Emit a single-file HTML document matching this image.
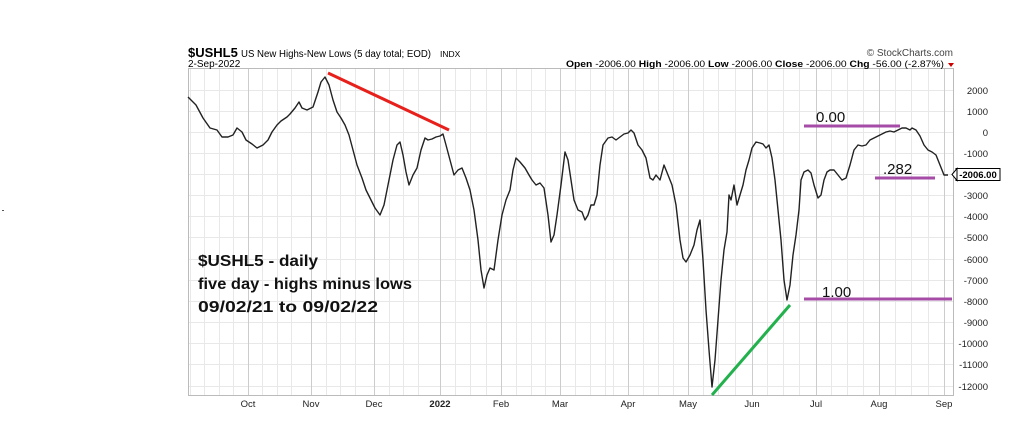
<!DOCTYPE html><html><head><style>body{margin:0;background:#fff}svg{display:block}</style></head><body>
<svg width="1023" height="427" xmlns="http://www.w3.org/2000/svg" font-family="Liberation Sans, sans-serif">
<rect width="1023" height="427" fill="#fff"/>
<g stroke="#e8e8e8" stroke-width="1">
<path d="M190.5 68V395M204.5 68V395M219.5 68V395M233.5 68V395M262.5 68V395M277.5 68V395M291.5 68V395M326.5 68V395M340.5 68V395M355.5 68V395M389.5 68V395M403.5 68V395M418.5 68V395M455.5 68V395M470.5 68V395M486.5 68V395M516.5 68V395M531.5 68V395M545.5 68V395M575.5 68V395M590.5 68V395M605.5 68V395M613.5 68V395M643.5 68V395M658.5 68V395M673.5 68V395M703.5 68V395M718.5 68V395M735.5 68V395M767.5 68V395M783.5 68V395M799.5 68V395M831.5 68V395M847.5 68V395M863.5 68V395M895.5 68V395M911.5 68V395M928.5 68V395"/>
<path d="M188 90.5H953M188 111.5H953M188 132.5H953M188 153.5H953M188 174.5H953M188 195.5H953M188 216.5H953M188 237.5H953M188 259.5H953M188 280.5H953M188 301.5H953M188 322.5H953M188 343.5H953M188 364.5H953M188 386.5H953"/>
</g>
<g stroke="#cccccc"><path d="M248.5 68V395M311.5 68V395M374.5 68V395M440.5 68V395M501.5 68V395M560.5 68V395M628.5 68V395M688.5 68V395M752.5 68V395M816.5 68V395M879.5 68V395M944.5 68V395"/></g>
<rect x="188.5" y="68.5" width="765" height="327" fill="none" stroke="#bbb"/>
<text x="188" y="57" font-size="13" font-weight="bold">$USHL5</text>
<text x="241" y="57" font-size="10" textLength="190" lengthAdjust="spacingAndGlyphs">US New Highs-New Lows (5 day total; EOD)</text>
<text x="440" y="57" font-size="8.5">INDX</text>
<text x="188" y="67" font-size="10">2-Sep-2022</text>
<text x="953" y="56" font-size="10" text-anchor="end" fill="#444">© StockCharts.com</text>
<text x="566" y="67" font-size="9.5" textLength="378" lengthAdjust="spacingAndGlyphs"><tspan font-weight="bold">Open</tspan> -2006.00  <tspan font-weight="bold">High</tspan> -2006.00  <tspan font-weight="bold">Low</tspan> -2006.00  <tspan font-weight="bold">Close</tspan> -2006.00  <tspan font-weight="bold">Chg</tspan> -56.00 (-2.87%)</text>
<path d="M948 63l3 4 3-4z" fill="#c00"/>
<g font-size="9.5" fill="#222" text-anchor="end">
<text x="988" y="94">2000</text><text x="988" y="115">1000</text><text x="988" y="136">0</text><text x="988" y="157">-1000</text><text x="988" y="199">-3000</text><text x="988" y="220">-4000</text><text x="988" y="241">-5000</text><text x="988" y="263">-6000</text><text x="988" y="284">-7000</text><text x="988" y="305">-8000</text><text x="988" y="326">-9000</text><text x="988" y="347">-10000</text><text x="988" y="368">-11000</text><text x="988" y="390">-12000</text>
</g>
<rect x="956" y="168.5" width="44" height="12" fill="#fff" stroke="#000"/>
<path d="M952 174.5l5-6v12z" fill="#fff" stroke="#000"/>
<text x="978" y="178" font-size="9.5" font-weight="bold" text-anchor="middle">-2006.00</text>
<g font-size="9.5" fill="#222" text-anchor="middle">
<text x="248" y="407">Oct</text><text x="311" y="407">Nov</text><text x="374" y="407">Dec</text><text x="440" y="407" font-weight="bold">2022</text><text x="501" y="407">Feb</text><text x="560" y="407">Mar</text><text x="628" y="407">Apr</text><text x="688" y="407">May</text><text x="752" y="407">Jun</text><text x="816" y="407">Jul</text><text x="879" y="407">Aug</text><text x="944" y="407">Sep</text>
</g>
<polyline fill="none" stroke="#222" stroke-width="1.4" stroke-linejoin="round" points="188,97 196,105 203,118 210,128 217,130 222,137 228,137 233,135 237,128 242,132 246,140 252,144 257,148 263,145 268,140 272,132 277,125 281,121 287,117 290,114 295,108 299,102 302,108 307,110 313,107 318,92 321,82 325,77 329,85 333,100 337,112 341,118 345,125 349,135 353,150 357,165 362,178 366,190 371,200 375,208 380,215 384,205 388,185 393,160 397,145 400,142 403,155 406,172 409,185 413,175 417,168 421,150 425,138 428,140 432,139 436,137 440,136 443,134 446,145 450,160 454,175 458,170 462,168 466,178 470,190 474,210 478,240 481,270 484,288 487,275 490,268 494,270 498,240 502,215 506,200 510,190 513,170 516,158 520,162 525,168 529,175 532,180 536,185 540,183 544,188 548,215 551,242 554,235 557,215 561,185 565,152 568,160 571,180 574,200 578,210 582,212 585,220 588,215 591,205 594,205 597,195 600,165 603,145 608,138 612,137 616,140 620,137 624,134 628,133 631,130 634,133 638,145 642,150 646,158 650,178 653,180 656,175 660,180 664,165 668,175 672,185 676,205 680,240 683,258 686,262 690,255 694,245 697,230 700,220 703,260 706,310 709,350 712,387 715,360 718,320 721,280 724,250 727,232 729,195 731,200 734,185 737,205 740,195 743,185 746,170 749,160 752,148 756,142 760,143 763,144 766,148 769,145 772,158 775,180 778,210 781,240 784,280 787,300 790,285 793,255 796,235 799,210 801,180 804,172 808,170 811,173 814,185 818,198 821,195 824,180 827,172 830,170 834,170 838,175 842,180 846,178 850,165 854,150 858,145 862,146 866,145 870,140 874,138 878,136 882,134 886,132 890,131 894,132 898,130 902,128 906,128 910,130 912,128 916,130 920,136 924,145 928,150 932,152 936,155 940,165 944,175 948,175"/>
<line x1="328" y1="73" x2="449" y2="130" stroke="#e8201c" stroke-width="3"/>
<line x1="712" y1="395" x2="790" y2="305" stroke="#22b14c" stroke-width="3"/>
<g stroke="#a64ca6" stroke-width="3">
<line x1="804" y1="126" x2="900" y2="126"/><line x1="875" y1="178" x2="935" y2="178"/><line x1="804" y1="299" x2="952" y2="299"/>
</g>
<g font-size="15" fill="#111">
<text x="816" y="122">0.00</text><text x="883" y="174">.282</text><text x="822" y="297">1.00</text>
</g>
<g font-size="16" font-weight="bold" fill="#111">
<text x="198" y="266" textLength="120" lengthAdjust="spacingAndGlyphs">$USHL5 - daily</text>
<text x="198" y="289" textLength="214" lengthAdjust="spacingAndGlyphs">five day - highs minus lows</text>
<text x="198" y="312" textLength="180" lengthAdjust="spacingAndGlyphs">09/02/21 to 09/02/22</text>
</g>
<rect x="2" y="210" width="2" height="1" fill="#555"/>
</svg>
</body></html>
